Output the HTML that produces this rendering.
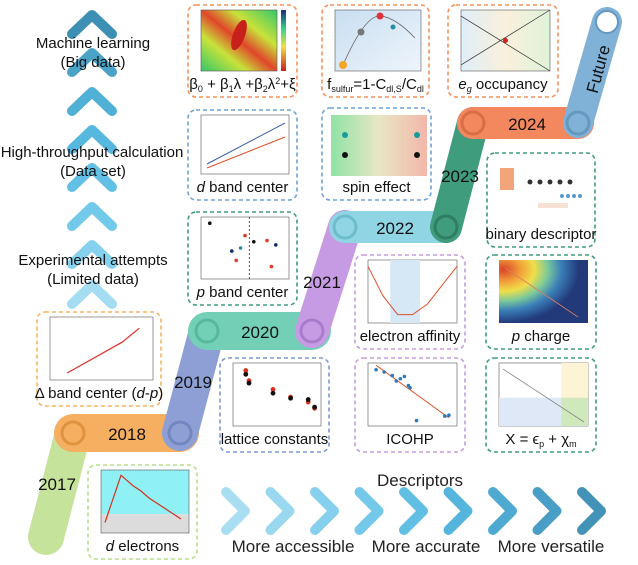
<!DOCTYPE html>
<html><head><meta charset="utf-8"><style>
html,body{margin:0;padding:0;background:#fff;}
svg{display:block;font-family:"Liberation Sans",sans-serif;}
</style></head><body>
<svg id="fig" width="638" height="565" viewBox="0 0 638 565">
<defs>
<linearGradient id="gHeat" x1="0" y1="1" x2="1" y2="0"><stop offset="0" stop-color="#35c86a"/><stop offset="0.3" stop-color="#c8e23a"/><stop offset="0.5" stop-color="#e0462a"/><stop offset="0.7" stop-color="#c8e23a"/><stop offset="1" stop-color="#35c86a"/></linearGradient>
<linearGradient id="gBar" x1="0" y1="0" x2="0" y2="1"><stop offset="0" stop-color="#1b2a7a"/><stop offset="0.3" stop-color="#2fd08a"/><stop offset="0.6" stop-color="#f2e040"/><stop offset="1" stop-color="#c8201a"/></linearGradient>
<linearGradient id="gF" x1="0" y1="0" x2="1" y2="1"><stop offset="0" stop-color="#c9def2"/><stop offset="1" stop-color="#eef5fb"/></linearGradient>
<linearGradient id="gEg" x1="0" y1="0" x2="1" y2="0"><stop offset="0" stop-color="#dfeef8"/><stop offset="0.5" stop-color="#faf0dc"/><stop offset="1" stop-color="#def3d8"/></linearGradient>
<linearGradient id="gSpin" x1="0" y1="0" x2="1" y2="0"><stop offset="0" stop-color="#8fe3a6"/><stop offset="0.5" stop-color="#e8e6c4"/><stop offset="1" stop-color="#f2b7aa"/></linearGradient>
<radialGradient id="gP" cx="0.05" cy="0.15" r="1"><stop offset="0" stop-color="#d8432a"/><stop offset="0.2" stop-color="#f2a23a"/><stop offset="0.35" stop-color="#eedf4a"/><stop offset="0.5" stop-color="#7cc99a"/><stop offset="0.65" stop-color="#3a7fb8"/><stop offset="0.85" stop-color="#22397a"/></radialGradient>
</defs>
<rect width="638" height="565" fill="#fff"/>
<g id="leftChev"></g>
<g font-size="15" text-anchor="middle" fill="#111">
<text x="93" y="48">Machine learning</text>
<text x="93" y="67">(Big data)</text>
<text x="92" y="157">High-throughput calculation</text>
<text x="93" y="176">(Data set)</text>
<text x="93" y="265">Experimental attempts</text>
<text x="93" y="284">(Limited data)</text>
</g>
<g id="timeline"></g>
<g id="boxes"></g>
<g id="botChev"></g>
<g font-size="17" text-anchor="middle" fill="#222">
<text x="420" y="486" font-size="17">Descriptors</text>
<text x="293" y="552">More accessible</text>
<text x="426" y="552">More accurate</text>
<text x="551" y="552">More versatile</text>
</g>
</svg>
<script>
// ---- data ----
const years = ['2017','2018','2019','2020','2021','2022','2023','2024','Future'];
const dpX = [1.75, 2.55, 2.8];
const dpY = [0.25, 0.47, 0.57];
const latX = [2.88, 2.90, 3.05, 3.16, 3.27, 3.31];
const latLi2S4 = [4.4, 3.6, 2.9, 2.3, 1.9, 1.4];
const latLi2S6 = [4.1, 3.4, 2.6, 2.2, 2.1, 1.5];
const icohpX = [-4.2, -4.1, -4.0, -3.95, -3.9, -3.85, -3.8, -3.78, -3.35, -3.3, -3.7];
const icohpY = [1.85, 1.8, 1.72, 1.6, 1.65, 1.7, 1.5, 1.45, 0.82, 0.84, 0.72];
const deX = [0.5, 2.5, 4, 5, 6, 8, 10];
const deY = [0.6, 3.3, 2.7, 2.4, 2.0, 1.4, 0.8];
const eaX = [2, 4, 6, 8, 10, 12, 14];
const eaY = [0.27, 0.13, 0.04, 0.04, 0.09, 0.18, 0.27];

const NS = 'http://www.w3.org/2000/svg';
function mk(tag, attrs, parent){const e=document.createElementNS(NS,tag);for(const k in attrs)e.setAttribute(k,attrs[k]);if(parent)parent.appendChild(e);return e;}
function lin(d0,d1,r0,r1){return v=>r0+(v-d0)*(r1-r0)/(d1-d0);}

// ---- left up chevrons ----
const lc = document.getElementById('leftChev');
const lcY = [12,50,89,127,165,204,242,282];
const lcCol = ['#3d8fb3','#4aa2c6','#50b0d6','#56b8de','#62c0e4','#72c9ea','#86d2ee','#a4ddf2'];
lcY.forEach((y,i)=>{
  const p = mk('path',{d:`M72 ${y+22} L92 ${y+3} L112 ${y+22}`,fill:'none',stroke:lcCol[i],'stroke-width':10,'stroke-linecap':'round','stroke-linejoin':'round'},lc);
  
  
});

// ---- bottom right chevrons ----
const bc = document.getElementById('botChev');
const bcCol = ['#a9def2','#9ad8f0','#86d0ee','#74c8ea','#62bfe4','#55b5dc','#4eaad0','#489ec4','#4393b8'];
bcCol.forEach((c,i)=>{
  const x = 226 + i*44.5;
  const p = mk('path',{d:`M${x} 492 L${x+19} 511 L${x} 530`,fill:'none',stroke:c,'stroke-width':10,'stroke-linecap':'round','stroke-linejoin':'round'},bc);
  
  
});

// ---- timeline bands ----
const tl = document.getElementById('timeline');
const segs = [
  [[73,433],[46,537],'#c6e39c','#a9cf7c',36],
  [[73,433],[180,433],'#f6ae60','#e0933f',38],
  [[180,433],[207,331],'#8d9fd5','#7386c0',36],
  [[207,331],[312,331],'#73d0b6','#56b89c',38],
  [[312,331],[345,227],'#c79be4','#a97ccb',34],
  [[345,227],[446,227],'#8fd5e4','#6fbccd',32],
  [[446,227],[473,123],'#3f9c7c','#2e7e62',32],
  [[473,123],[578,123],'#f3885f','#d96d45',32],
  [[578,123],[607,22],'#80b2d8','#6598c0',30],
];
const labelPos = [[57,490,0],[127,440,0],[193,388,0],[260,338,0],[322,288,0],[395,234,0],[460,182,0],[527,130,0],[598,75,-75]];
segs.forEach((s,i)=>{
  const l = mk('line',{x1:s[0][0],y1:s[0][1],x2:s[1][0],y2:s[1][1],stroke:s[2],'stroke-width':s[4],'stroke-linecap':'round'},tl);
  
  
});
segs.forEach((s,i)=>{
  if(i===0) return;
  const c = mk('circle',{cx:s[0][0],cy:s[0][1],r:11,fill:s[2],stroke:s[3],'stroke-width':3},tl);
  
  
});
mk('circle',{cx:607,cy:22,r:11,fill:'#fff',stroke:'#6598c0','stroke-width':2},tl);
segs.forEach((s,i)=>{
  const p = labelPos[i];
  const t = mk('text',{x:p[0],y:p[1],'font-size':17,'text-anchor':'middle',fill:'#111',transform:p[2]?`rotate(${p[2]} ${p[0]} ${p[1]-6})`:''},tl);
  t.textContent = years[i];
  
  
});

// ---- boxes ----
const bx = document.getElementById('boxes');
const boxes = [
 ['ml-panel',188,5,109,92,'#f4925a','β<tspan font-size="9" dy="3">0</tspan><tspan dy="-3"> + β</tspan><tspan font-size="9" dy="3">1</tspan><tspan dy="-3">λ +β</tspan><tspan font-size="9" dy="3">2</tspan><tspan dy="-3">λ</tspan><tspan font-size="9" dy="-5">2</tspan><tspan dy="5">+ξ</tspan>'],
 ['d-band-panel',188,110,109,90,'#6fa3d6','<tspan font-style="italic">d</tspan> band center'],
 ['p-band-panel',188,212,109,93,'#3f9b80','<tspan font-style="italic">p</tspan> band center'],
 ['fsulfur-panel',322,5,107,92,'#f4925a','f<tspan font-size="9" dy="3">sulfur</tspan><tspan dy="-3">=1-C</tspan><tspan font-size="9" dy="3">dl,S</tspan><tspan dy="-3">/C</tspan><tspan font-size="9" dy="3">dl</tspan>'],
 ['eg-panel',448,5,110,92,'#f4925a','<tspan font-style="italic">e</tspan><tspan font-style="italic" font-size="9" dy="3">g</tspan><tspan dy="-3"> occupancy</tspan>'],
 ['spin-panel',322,108,109,92,'#6fa3d6','spin effect'],
 ['binary-panel',487,153,108,94,'#3f9b80','binary descriptor'],
 ['ea-panel',355,255,110,94,'#c79be0','electron affinity'],
 ['pcharge-panel',486,255,110,94,'#3f9b80','<tspan font-style="italic">p</tspan> charge'],
 ['icohp-panel',355,358,110,94,'#c79be0','ICOHP'],
 ['x-panel',486,358,110,94,'#3f9b80','X = ϵ<tspan font-size="9" dy="3">p</tspan><tspan dy="-3"> + χ</tspan><tspan font-size="9" dy="3">m</tspan>'],
 ['lattice-panel',220,358,109,94,'#7b9ad6','lattice constants'],
 ['dp-panel',37,312,124,94,'#f6b45e','Δ band center (<tspan font-style="italic">d</tspan>-<tspan font-style="italic">p</tspan>)'],
 ['d-electron-panel',88,465,109,94,'#b9de8a','<tspan font-style="italic">d</tspan> electrons'],
];
const P = {};
boxes.forEach(b=>{
  const g = mk('g',{},bx);
  
  
  mk('rect',{x:b[1],y:b[2],width:b[3],height:b[4],rx:8,fill:'#fff',stroke:b[5],'stroke-width':1.6,'stroke-dasharray':'4 3'},g);
  const t = mk('text',{x:b[1]+b[3]/2,y:b[2]+b[4]-8,'font-size':15,'text-anchor':'middle',fill:'#111'},g);
  t.innerHTML = b[6];
  
  
  P[b[0]] = {g:g,x:b[1]+13,y:b[2]+5,w:b[3]-21,h:b[4]-31};
});
function frame(p,fill){mk('rect',{x:p.x,y:p.y,width:p.w,height:p.h,fill:fill||'#fff',stroke:'#555','stroke-width':0.6},p.g);}
function dot(g,x,y,r,f){return mk('circle',{cx:x,cy:y,r:r,fill:f},g);}

// ML heatmap
(function(){const p=P['ml-panel'];mk('rect',{x:p.x,y:p.y,width:p.w-12,height:p.h,fill:'url(#gHeat)',stroke:'#555','stroke-width':0.6},p.g);
 mk('ellipse',{cx:p.x+38,cy:p.y+25,rx:6,ry:16,fill:'#c8201a',transform:`rotate(20 ${p.x+38} ${p.y+25})`},p.g);
 mk('rect',{x:p.x+p.w-8,y:p.y,width:5,height:p.h,fill:'url(#gBar)'},p.g);})();
// d band
(function(){const p=P['d-band-panel'];frame(p);
 mk('line',{x1:p.x+6,y1:p.y+p.h-10,x2:p.x+p.w-4,y2:p.y+8,stroke:'#3f5fa8','stroke-width':1},p.g);
 mk('line',{x1:p.x+6,y1:p.y+p.h-6,x2:p.x+p.w-4,y2:p.y+22,stroke:'#e0502a','stroke-width':1},p.g);})();
// p band
(function(){const p=P['p-band-panel'];frame(p);
 mk('line',{x1:p.x+p.w*0.55,y1:p.y,x2:p.x+p.w*0.55,y2:p.y+p.h,stroke:'#c0282a','stroke-width':1,'stroke-dasharray':'2 2'},p.g);
 [[0.1,0.1,'#111'],[0.35,0.55,'#112a66'],[0.45,0.5,'#2a8a9a'],[0.5,0.3,'#e03a2a'],[0.6,0.4,'#111'],[0.75,0.38,'#e03a2a'],[0.85,0.45,'#112a66'],[0.8,0.8,'#e03a2a'],[0.4,0.7,'#e03a2a']].forEach(d=>dot(p.g,p.x+d[0]*p.w,p.y+d[1]*p.h,1.8,d[2]));})();
// fsulfur
(function(){const p=P['fsulfur-panel'];frame(p,'url(#gF)');
 mk('path',{d:`M${p.x+8} ${p.y+p.h-6} Q${p.x+30} ${p.y+5} ${p.x+45} ${p.y+6} T${p.x+p.w-6} ${p.y+28}`,fill:'none',stroke:'#666','stroke-width':0.8},p.g);
 dot(p.g,p.x+8,p.y+p.h-6,4,'#f5a623');dot(p.g,p.x+26,p.y+22,3.5,'#777');dot(p.g,p.x+45,p.y+6,3.5,'#e0303a');dot(p.g,p.x+58,p.y+17,2.5,'#2a8aa8');})();
// eg
(function(){const p=P['eg-panel'];frame(p,'url(#gEg)');
 mk('line',{x1:p.x,y1:p.y+p.h*0.1,x2:p.x+p.w,y2:p.y+p.h,stroke:'#333','stroke-width':0.7},p.g);
 mk('line',{x1:p.x,y1:p.y+p.h*0.9,x2:p.x+p.w,y2:p.y,stroke:'#333','stroke-width':0.7},p.g);
 dot(p.g,p.x+p.w/2,p.y+p.h/2,2.5,'#d02020');})();
// spin
(function(){const p=P['spin-panel'];mk('rect',{x:p.x-4,y:p.y+2,width:p.w+8,height:p.h,fill:'url(#gSpin)'},p.g);
 dot(p.g,p.x+10,p.y+22,3,'#1a9a9a');dot(p.g,p.x+10,p.y+42,3,'#111');dot(p.g,p.x+p.w-6,p.y+22,3,'#1a9a9a');dot(p.g,p.x+p.w-6,p.y+42,3,'#111');})();
// binary
(function(){const p=P['binary-panel'];
 mk('rect',{x:p.x,y:p.y+10,width:14,height:22,fill:'#f2a47a'},p.g);
 for(let i=0;i<5;i++)dot(p.g,p.x+30+i*10,p.y+24,2.5,'#333');
 for(let i=0;i<4;i++)dot(p.g,p.x+62+i*6,p.y+38,2,'#5a9ac8');
 mk('rect',{x:p.x+38,y:p.y+45,width:30,height:5,fill:'#f6e2d4'},p.g);})();
// electron affinity
(function(){const p=P['ea-panel'];frame(p);
 const sx=lin(2,14,p.x,p.x+p.w), sy=lin(0,0.3,p.y+p.h,p.y);
 mk('rect',{x:sx(5),y:p.y,width:sx(9)-sx(5),height:p.h,fill:'#d6e8f6'},p.g);
 mk('polyline',{points:eaX.map((v,i)=>sx(v)+','+sy(eaY[i])).join(' '),fill:'none',stroke:'#e0502a','stroke-width':1},p.g);})();
// p charge
(function(){const p=P['pcharge-panel'];mk('rect',{x:p.x,y:p.y,width:p.w,height:p.h,fill:'url(#gP)'},p.g);
 mk('line',{x1:p.x+6,y1:p.y+8,x2:p.x+p.w-10,y2:p.y+p.h-6,stroke:'#e07a5a','stroke-width':0.8},p.g);})();
// ICOHP
(function(){const p=P['icohp-panel'];frame(p);
 const sx=lin(-4.3,-3.2,p.x,p.x+p.w), sy=lin(0.6,2.0,p.y+p.h,p.y);
 mk('line',{x1:sx(-4.2),y1:sy(1.95),x2:sx(-3.3),y2:sy(0.78),stroke:'#e0502a','stroke-width':1},p.g);
 icohpX.forEach((v,i)=>dot(p.g,sx(v),sy(icohpY[i]),1.8,'#2a7ac0'));})();
// X
(function(){const p=P['x-panel'];frame(p);
 mk('rect',{x:p.x,y:p.y+p.h*0.55,width:p.w*0.7,height:p.h*0.45,fill:'#dfe8f6'},p.g);
 mk('rect',{x:p.x+p.w*0.7,y:p.y,width:p.w*0.3,height:p.h*0.55,fill:'#fdf4d6'},p.g);
 mk('rect',{x:p.x+p.w*0.7,y:p.y+p.h*0.55,width:p.w*0.3,height:p.h*0.45,fill:'#cfe8bc'},p.g);
 mk('line',{x1:p.x+4,y1:p.y+6,x2:p.x+p.w-4,y2:p.y+p.h-4,stroke:'#888','stroke-width':0.8},p.g);})();
// lattice
(function(){const p=P['lattice-panel'];frame(p);
 const sx=lin(2.8,3.35,p.x,p.x+p.w), sy=lin(0,5,p.y+p.h,p.y);
 latX.forEach((v,i)=>{dot(p.g,sx(v),sy(latLi2S4[i]),2.4,'#d8301e');dot(p.g,sx(v),sy(latLi2S6[i]),2.4,'#111');});})();
// delta band center
(function(){const p=P['dp-panel'];frame(p);
 const sx=lin(1.5,3.0,p.x,p.x+p.w), sy=lin(0.2,0.65,p.y+p.h,p.y);
 mk('polyline',{points:dpX.map((v,i)=>sx(v)+','+sy(dpY[i])).join(' '),fill:'none',stroke:'#e0302a','stroke-width':1.2},p.g);})();
// d electrons
(function(){const p=P['d-electron-panel'];
 mk('rect',{x:p.x,y:p.y,width:p.w,height:p.h*0.7,fill:'#8ff0f6'},p.g);
 mk('rect',{x:p.x,y:p.y+p.h*0.7,width:p.w,height:p.h*0.3,fill:'#dcdcdc'},p.g);
 mk('rect',{x:p.x,y:p.y,width:p.w,height:p.h,fill:'none',stroke:'#555','stroke-width':0.6},p.g);
 const sx=lin(0,11,p.x,p.x+p.w), sy=lin(0,3.6,p.y+p.h,p.y);
 mk('polyline',{points:deX.map((v,i)=>sx(v)+','+sy(deY[i])).join(' '),fill:'none',stroke:'#d8301e','stroke-width':1.2},p.g);})();
</script>
</body></html>
